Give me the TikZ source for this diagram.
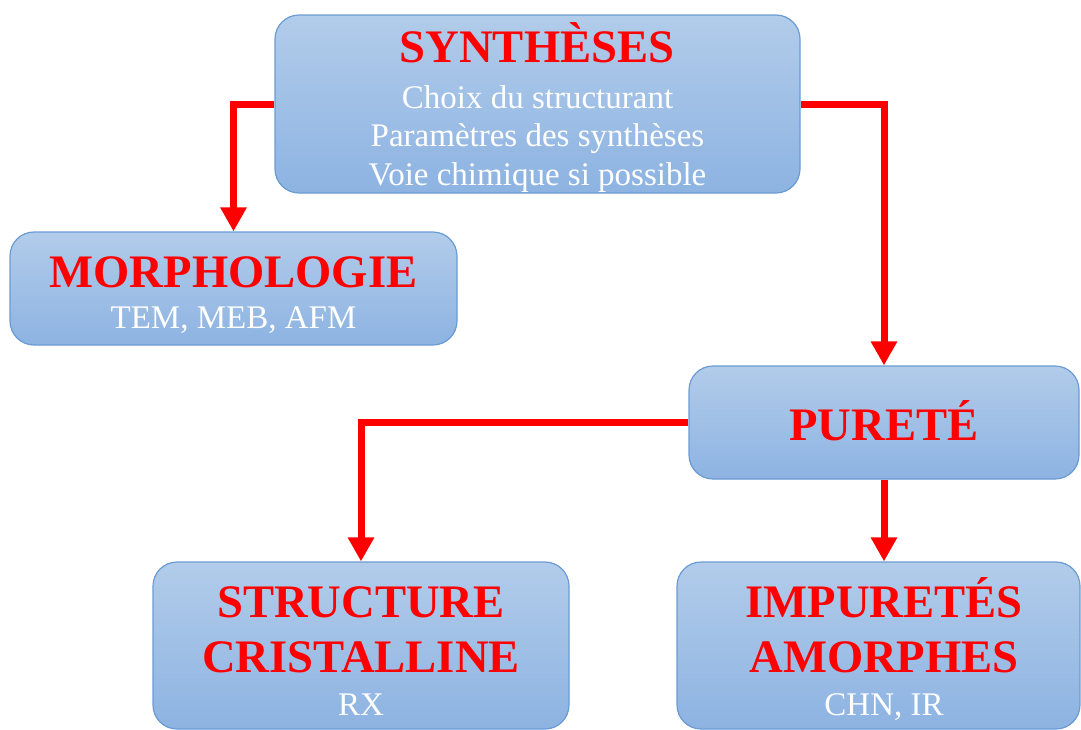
\documentclass[tikz,border=0pt]{standalone}
\usepackage{fontspec}
\setmainfont{Liberation Serif}
\usetikzlibrary{arrows.meta}
\definecolor{boxtop}{HTML}{B2CCEA}
\definecolor{boxbot}{HTML}{8DB3E2}
\definecolor{boxline}{HTML}{6A9BD3}
\tikzset{
  box/.style={draw=boxline, line width=1.2pt, rounded corners=24pt, top color=boxtop, bottom color=boxbot, inner sep=0pt},
  ttl/.style={anchor=base, text=red, font=\fontsize{46.6}{56}\selectfont\bfseries, inner sep=0pt},
  sub/.style={anchor=base, text=white, font=\fontsize{33}{38}\selectfont, inner sep=0pt},
  link/.style={draw=red, line width=7pt, line join=miter, -{Triangle[width=25pt,length=24pt]}}
}
\begin{document}
\begin{tikzpicture}[x=1pt,y=-1pt]
\useasboundingbox (0,0) rectangle (1081,729);
\node[box, minimum width=525pt, minimum height=178pt] (syn) at (537.5,104) {};
\node[box, minimum width=447pt, minimum height=113pt] (mor) at (233.5,288.5) {};
\node[box, minimum width=390pt, minimum height=113pt] (pur) at (884,422.5) {};
\node[box, minimum width=416pt, minimum height=167pt] (str) at (361,645.5) {};
\node[box, minimum width=403pt, minimum height=167pt] (imp) at (878.5,645.5) {};

\node[ttl] (t1) at (537,62) {SYNTHÈSES};
\node[sub] (s1a) at (537.5,108) {Choix du structurant};
\node[sub] (s1b) at (537.5,146.5) {Paramètres des synthèses};
\node[sub] (s1c) at (537.5,185) {Voie chimique si possible};

\node[ttl] (t2) at (233.5,287) {MORPHOLOGIE};
\node[sub] (s2) at (233.5,328) {TEM, MEB, AFM};

\node[ttl] (t3) at (884,440) {PURETÉ};

\node[ttl] (t4a) at (361,617) {STRUCTURE};
\node[ttl] (t4b) at (361,672) {CRISTALLINE};
\node[sub] (s4) at (361,715) {RX};

\node[ttl] (t5a) at (884,617) {IMPURETÉS};
\node[ttl] (t5b) at (884,672) {AMORPHES};
\node[sub] (s5) at (884,715) {CHN, IR};

\draw[link] (syn.west) -| (mor.north);
\draw[link] (syn.east) -| (pur.north);
\draw[link] (pur.west) -| (str.north);
\draw[link] (pur.south) -- (pur.south |- imp.north);
\end{tikzpicture}
\end{document}
